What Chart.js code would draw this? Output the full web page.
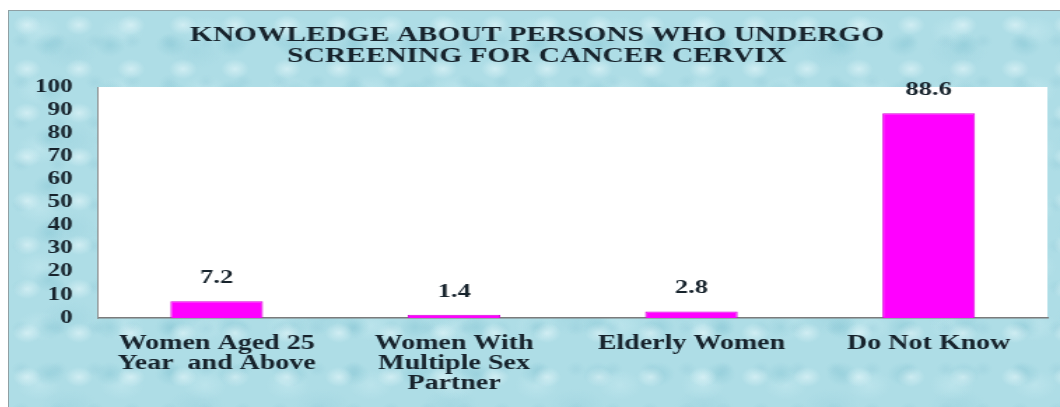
<!DOCTYPE html>
<html>
<head>
<meta charset="utf-8">
<script src="https://cdn.jsdelivr.net/npm/chart.js@4.4.1/dist/chart.umd.min.js"></script>
<style>
  html, body { margin: 0; padding: 0; background: #fff; }
  #panel {
    position: absolute; left: 8px; top: 10px; width: 1052px; height: 397px;
    box-sizing: border-box;
    border-left: 1px solid #8fa0a4; border-top: 1px solid #8fa0a4;
    background-color: #aedde6;
    background-image:
      radial-gradient(ellipse 14px 10px at 18px 14px, rgba(235,250,252,.55), rgba(235,250,252,0) 100%),
      radial-gradient(ellipse 16px 12px at 40px 34px, rgba(120,190,205,.35), rgba(120,190,205,0) 100%),
      radial-gradient(ellipse 10px 8px at 12px 30px, rgba(150,205,218,.4), rgba(150,205,218,0) 100%),
      radial-gradient(ellipse 22px 15px at 30px 20px, rgba(210,240,245,.35), rgba(210,240,245,0) 100%),
      radial-gradient(ellipse 30px 18px at 60px 40px, rgba(140,200,214,.25), rgba(140,200,214,0) 100%);
    background-size: 52px 44px, 61px 47px, 37px 41px, 83px 59px, 127px 89px;
  }
  #chart { position: absolute; left: 0; top: 0; }
</style>
</head>
<body>
<div id="panel">
  <canvas id="chart" width="751" height="396" style="width:1051px;height:396px"></canvas>
</div>
<script>
/* ===============================
   DATA
   =============================== */
const titleLines = [
  "KNOWLEDGE ABOUT PERSONS WHO UNDERGO",
  "SCREENING FOR CANCER CERVIX"
];
const categories = [
  ["Women Aged 25", "Year  and Above"],
  ["Women With", "Multiple Sex", "Partner"],
  "Elderly Women",
  "Do Not Know"
];
const percentages = [7.2, 1.4, 2.8, 88.6];

const serif = "'Liberation Serif', 'DejaVu Serif', serif";
const inkColor = "#17232c";

/* ===============================
   PLUGINS
   =============================== */
const plotBg = {
  id: "plotBg",
  beforeDraw(chart) {
    const { ctx, chartArea: a } = chart;
    ctx.save();
    ctx.fillStyle = "#ffffff";
    ctx.fillRect(a.left, a.top, a.right - a.left, a.bottom - a.top);
    ctx.restore();
  }
};

const barLabels = {
  id: "barLabels",
  afterDatasetsDraw(chart) {
    const ctx = chart.ctx;
    const meta = chart.getDatasetMeta(0);
    ctx.save();
    ctx.font = "bold 19px " + serif;
    ctx.fillStyle = inkColor;
    ctx.textAlign = "center";
    ctx.textBaseline = "middle";
    meta.data.forEach((bar, i) => {
      ctx.fillText(percentages[i].toFixed(1), bar.x, bar.y - 23);
    });
    ctx.restore();
  }
};

/* ===============================
   CHART
   =============================== */
function drawChart() {
  new Chart(document.getElementById("chart"), {
    type: "bar",
    data: {
      labels: categories,
      datasets: [{
        data: percentages,
        backgroundColor: "#ff00ff",
        borderColor: "#d800d8",
        borderWidth: 1,
        barPercentage: 0.39,
        categoryPercentage: 1
      }]
    },
    options: {
      responsive: false,
      animation: false,
      devicePixelRatio: 1,
      layout: { padding: { left: 12.6, right: 9, top: 0, bottom: 0 } },
      plugins: {
        legend: { display: false },
        tooltip: { enabled: false },
        title: {
          display: true,
          text: titleLines,
          color: inkColor,
          font: { family: serif, size: 21, weight: "bold", lineHeight: 1 },
          padding: { top: 14, bottom: 20 }
        }
      },
      scales: {
        x: {
          grid: { display: false, drawTicks: false },
          border: { display: true, color: "#7b7b7b", width: 1.5 },
          ticks: {
            color: inkColor,
            font: { family: serif, size: 20, weight: "bold", lineHeight: 1 },
            padding: 16,
            autoSkip: false,
            maxRotation: 0
          },
          afterFit(scale) { scale.height = 89; }
        },
        y: {
          min: 0,
          max: 100,
          grid: { display: false, drawTicks: false },
          border: { display: true, color: "#8c8c8c", width: 1 },
          ticks: {
            stepSize: 10,
            autoSkip: false,
            color: inkColor,
            font: { family: serif, size: 18, weight: "bold" },
            padding: 18
          },
          afterFit(scale) { scale.width = 51; }
        }
      }
    },
    plugins: [plotBg, barLabels]
  });
}

if (document.fonts && document.fonts.load) {
  document.fonts.load("bold 18px 'Liberation Serif'").then(drawChart, drawChart);
} else {
  drawChart();
}
</script>
</body>
</html>
